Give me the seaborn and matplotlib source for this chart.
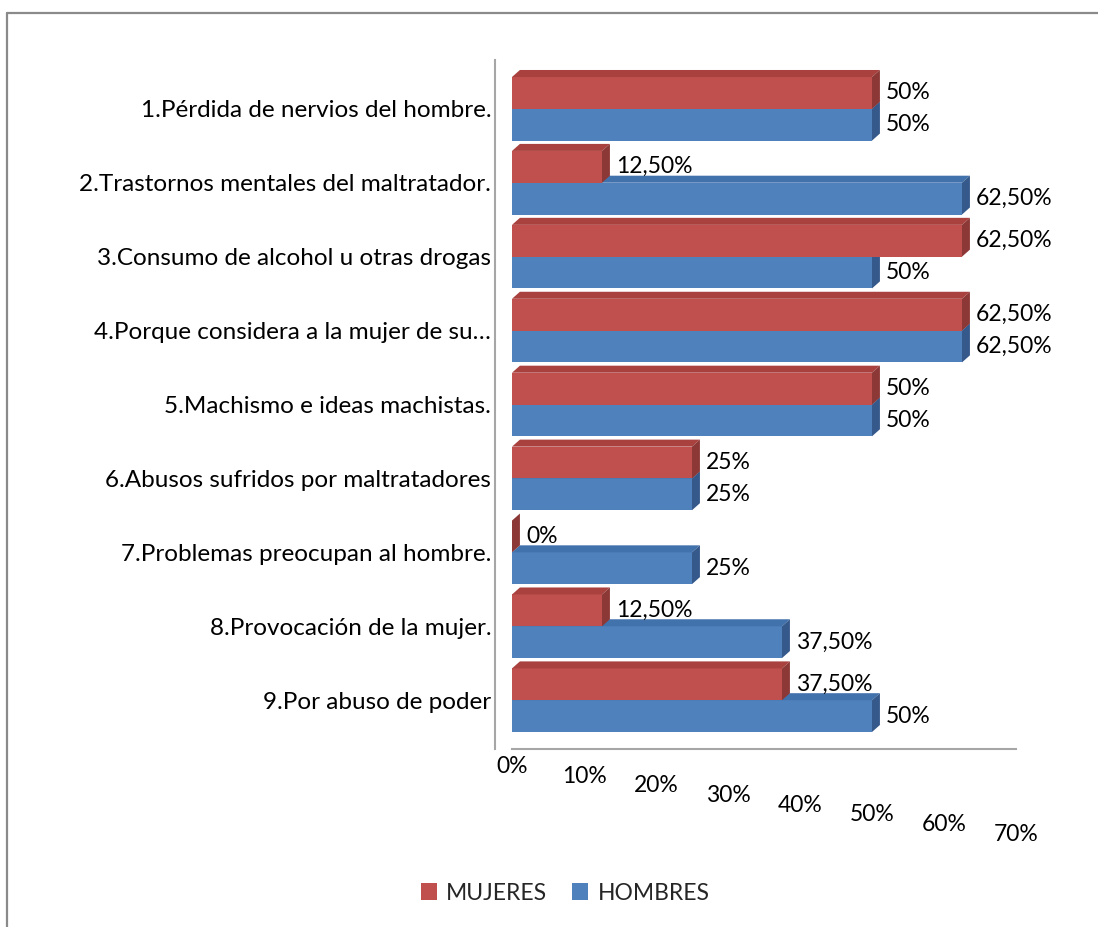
import matplotlib
matplotlib.use("Agg")
import matplotlib.pyplot as plt
import seaborn as sns
import pandas as pd
from matplotlib.patches import Polygon
from matplotlib.lines import Line2D
from matplotlib.transforms import ScaledTranslation

# ---- data -------------------------------------------------------------
categories = [
    "1.Pérdida de nervios del hombre.",
    "2.Trastornos mentales del maltratador.",
    "3.Consumo de alcohol u otras drogas",
    "4.Porque considera a la mujer de su…",
    "5.Machismo e ideas machistas.",
    "6.Abusos sufridos por maltratadores",
    "7.Problemas preocupan al hombre.",
    "8.Provocación de la mujer.",
    "9.Por abuso de poder",
]
mujeres = [0.50, 0.125, 0.625, 0.625, 0.50, 0.25, 0.0, 0.125, 0.375]
hombres = [0.50, 0.625, 0.50, 0.625, 0.50, 0.25, 0.25, 0.375, 0.50]
series = ["MUJERES", "HOMBRES"]
x_ticks = [0.0, 0.1, 0.2, 0.3, 0.4, 0.5, 0.6, 0.7]

front_colors = ["#C0504D", "#4F81BD"]
top_colors = ["#A9423F", "#4272AC"]
side_colors = ["#8C3836", "#35598A"]

df = pd.DataFrame({
    "categoria": categories * 2,
    "valor": mujeres + hombres,
    "serie": [series[0]] * len(categories) + [series[1]] * len(categories),
})


def pct_label(v):
    p = v * 100
    if abs(p - round(p)) < 1e-9:
        return f"{int(round(p))}%"
    return f"{p:.2f}%".replace(".", ",")


# ---- figure -----------------------------------------------------------
sns.set_theme(style="white")
plt.rcParams["font.family"] = ["Lato", "DejaVu Sans"]

W, H = 1098, 927
fig = plt.figure(figsize=(W / 100, H / 100), dpi=100)
ax = fig.add_axes([512 / W, 1 - 749 / H, 504 / W, (749 - 60) / H])

sns.barplot(
    data=df, x="valor", y="categoria", hue="serie", orient="h",
    palette=front_colors, saturation=1, width=0.86, linewidth=0, ax=ax,
)

ax.set_xlim(0, 0.7)
ax.set_ylim(len(categories) - 1 + 0.66, -0.66)

# depth faces on each bar (end cap and top face)
d, e = 0.011, 0.095
for i, cont in enumerate(ax.containers):
    z = 3 if i == 0 else 2
    for rect in cont:
        rect.set_zorder(z)
        x0, w = rect.get_x(), rect.get_width()
        y0, h = rect.get_y(), rect.get_height()
        x1 = x0 + w
        ytop, ybot = y0, y0 + h
        top = Polygon([(x0, ytop), (x0 + d, ytop - e), (x1 + d, ytop - e), (x1, ytop)],
                      closed=True, facecolor=top_colors[i], edgecolor="none", zorder=z)
        cap = Polygon([(x1, ytop), (x1 + d, ytop - e), (x1 + d, ybot - e), (x1, ybot)],
                      closed=True, facecolor=side_colors[i], edgecolor="none", zorder=z)
        ax.add_patch(top)
        ax.add_patch(cap)

# value labels at the bar ends
for i, cont in enumerate(ax.containers):
    vals = mujeres if i == 0 else hombres
    for rect, v in zip(cont, vals):
        yc = rect.get_y() + rect.get_height() / 2
        ax.annotate(pct_label(v), xy=(v, yc), xytext=(10, 0), textcoords="offset points",
                    ha="left", va="center", fontsize=16.5, color="black", zorder=5,
                    annotation_clip=False)

# axes styling
ax.set_xlabel("")
ax.set_ylabel("")
ax.set_xticks(x_ticks)
ax.set_xticklabels([pct_label(t) for t in x_ticks])
ax.tick_params(axis="y", length=0, pad=3, labelsize=17.5, labelcolor="black")
ax.tick_params(axis="x", length=0, pad=5, labelsize=16.5, labelcolor="black")
for side in ["top", "right"]:
    ax.spines[side].set_visible(False)
for side in ["left", "bottom"]:
    ax.spines[side].set_color("#A6A6A6")
    ax.spines[side].set_linewidth(1.5)
ax.spines["left"].set_position(("outward", 12))

# legend below the plot
sns.move_legend(
    ax, "center", bbox_to_anchor=(565 / W, 1 - 893 / H), bbox_transform=fig.transFigure,
    ncol=2, frameon=False, title=None, fontsize=16.5, handlelength=0.7, handleheight=0.7,
    columnspacing=1.1, handletextpad=0.4,
)

# x tick labels stepped downward along the floor edge
for k, lab in enumerate(ax.get_xticklabels()):
    lab.set_transform(lab.get_transform() + ScaledTranslation(0, -k * 0.097, fig.dpi_scale_trans))

# outer chart border (top and left edges)
bx, by = 7 / W, 1 - 13 / H
fig.add_artist(Line2D([bx, bx], [0, by], transform=fig.transFigure, color="#8A8A8A", lw=1.6))
fig.add_artist(Line2D([bx, 1], [by, by], transform=fig.transFigure, color="#8A8A8A", lw=1.6))

fig.savefig("out.png", dpi=100, facecolor="white")
